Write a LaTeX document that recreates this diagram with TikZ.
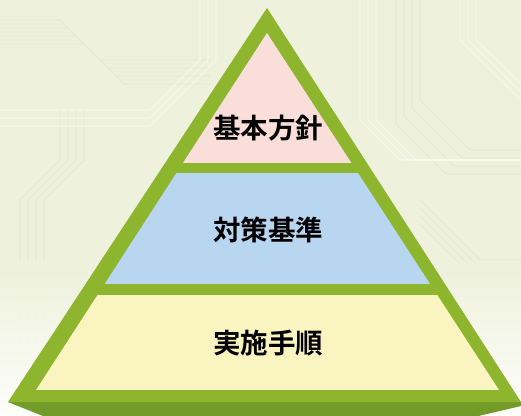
\documentclass[tikz,border=0pt]{standalone}
\usepackage{fontspec}
\newfontfamily\jpfont{Noto Sans CJK JP}[BoldFont={Noto Sans CJK JP Bold}]
\definecolor{bgc}{RGB}{238,241,219}
\definecolor{trace}{RGB}{231,235,211}
\definecolor{pyrgreen}{RGB}{141,181,45}
\definecolor{pyrdark}{RGB}{115,155,41}
\definecolor{toppink}{RGB}{249,222,218}
\definecolor{midblue}{RGB}{184,214,240}
\definecolor{lowyellow}{RGB}{250,245,192}
\tikzset{
  trc/.style={draw=trace, line width=1.4pt, line cap=round, line join=round},
  trl/.style={draw=white, opacity=0.45, line width=1.2pt, line cap=round, line join=round},
  label/.style={font=\jpfont\bfseries\fontsize{27.5}{32}\selectfont, text=black, inner sep=0pt}
}
\begin{document}
\begin{tikzpicture}[x=1pt,y=-1pt]
\useasboundingbox (0,0) rectangle (521,415);
\clip (0,0) rectangle (521,415);
% background
\fill[bgc] (0,0) rectangle (521,415);
% faint circuit traces
\foreach \d in {0,8,16,24} {
  \draw[trc] (0,{20+\d}) -- ({60+\d},{20+\d}) -- ({100+\d},{60+\d}) -- (210,{60+\d});
  \draw[trc] ({20+\d},415) -- ({20+\d},200) -- ({60+\d},160) -- ({60+\d},110);
  \draw[trc] (521,{150+\d}) -- ({470-\d},{150+\d}) -- ({420-\d},{100+\d}) -- ({420-\d},0);
  \draw[trc] (521,{260+\d}) -- ({480},{260+\d}) -- ({420},{200+\d});
}
\foreach \d in {0,8,16} {
  \draw[trl] (0,{110+\d}) -- (150,{110+\d}) -- ({200+\d},{60}) -- ({200+\d},0);
  \draw[trl] ({360+\d},0) -- ({360+\d},120) -- ({400+\d},160) -- (521,160);
  \draw[trl] ({460+\d},0) -- ({460+\d},40) -- (521,{100-\d});
}
\shade[top color=bgc, bottom color=white, opacity=0.9] (0,260) rectangle (521,416);
% pyramid base (3D edge)
\fill[pyrdark] (8,402) -- (521,402) -- (521,406) -- (470,418) -- (48,418) -- cycle;
% outer triangle
\fill[pyrgreen] (267,8) -- (521,402) -- (8,402) -- cycle;
% inner layers
\begin{scope}
  \clip (267,33) -- (499,390) -- (36,390) -- cycle;
  \fill[toppink] (0,0) rectangle (521,163);
  \fill[midblue] (0,173) rectangle (521,284);
  \fill[lowyellow] (0,295) rectangle (521,390);
\end{scope}
% labels
\node[label] (top) at (268,128) {基本方針};
\node[label] (mid) at (268,230) {対策基準};
\node[label] (low) at (268,343) {実施手順};
\end{tikzpicture}
\end{document}
